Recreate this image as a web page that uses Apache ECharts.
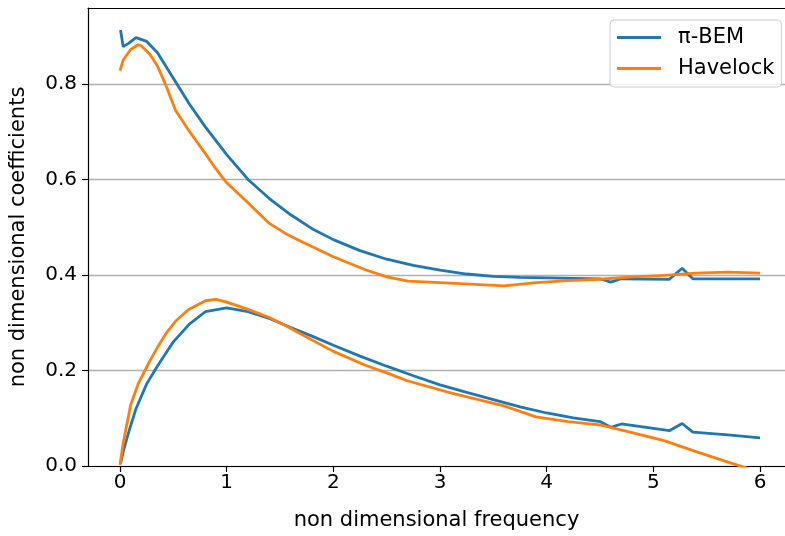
<!DOCTYPE html>
<html>
<head>
<meta charset="utf-8">
<script src="https://cdn.jsdelivr.net/npm/echarts@6/dist/echarts.min.js"></script>
<style>html,body{margin:0;padding:0;background:#fff}#chart{width:785px;height:536px}</style>
</head>
<body>
<div id="chart"></div>
<script>
// ---- data ----
var bemFreq  = [0.005, 0.03, 0.08, 0.15, 0.25, 0.35, 0.5, 0.65, 0.8, 1.0, 1.2, 1.4, 1.6, 1.8, 2.0, 2.25, 2.5, 2.75, 3.0, 3.25, 3.5, 3.75, 4.0, 4.25, 4.5, 4.6, 4.7, 5.15, 5.27, 5.37, 5.7, 6.0];
var bemUpper = [0.913, 0.878, 0.885, 0.897, 0.889, 0.866, 0.812, 0.758, 0.710, 0.652, 0.600, 0.560, 0.526, 0.497, 0.474, 0.451, 0.433, 0.420, 0.410, 0.402, 0.397, 0.395, 0.394, 0.393, 0.392, 0.385, 0.392, 0.391, 0.414, 0.392, 0.392, 0.392];
var bemLower = [0.005, 0.030, 0.070, 0.120, 0.172, 0.209, 0.260, 0.297, 0.323, 0.331, 0.323, 0.309, 0.290, 0.272, 0.253, 0.230, 0.209, 0.189, 0.170, 0.154, 0.139, 0.124, 0.111, 0.101, 0.093, 0.081, 0.088, 0.074, 0.089, 0.071, 0.065, 0.059];

var havFreq  = [0, 0.03, 0.1, 0.17, 0.2, 0.28, 0.35, 0.43, 0.52, 0.64, 0.8, 0.9, 1.0, 1.2, 1.4, 1.55, 1.7, 2.0, 2.3, 2.5, 2.7, 3.1, 3.6, 3.9, 4.2, 4.5, 4.8, 5.1, 5.4, 5.7, 6.0];
var havUpper = [0.828, 0.850, 0.872, 0.882, 0.880, 0.862, 0.838, 0.797, 0.745, 0.704, 0.654, 0.622, 0.593, 0.551, 0.508, 0.487, 0.470, 0.438, 0.411, 0.396, 0.387, 0.383, 0.377, 0.384, 0.388, 0.391, 0.396, 0.399, 0.404, 0.406, 0.404];
var havLower = [0.002, 0.048, 0.128, 0.172, 0.185, 0.220, 0.248, 0.277, 0.303, 0.327, 0.346, 0.349, 0.343, 0.328, 0.311, 0.294, 0.276, 0.240, 0.211, 0.195, 0.178, 0.153, 0.126, 0.103, 0.093, 0.086, 0.070, 0.053, 0.030, 0.008, -0.013];

var xTicks = [0, 1, 2, 3, 4, 5, 6];
var yTicks = [0, 0.2, 0.4, 0.6, 0.8];
var seriesNames = ['π-BEM', 'Havelock'];
var xTitle = 'non dimensional frequency';
var yTitle = 'non dimensional coefficients';

function zip(xs, ys) { return xs.map(function (x, i) { return [x, ys[i]]; }); }

var FONT = 'DejaVu Sans';
var BLUE = '#1f77b4', ORANGE = '#ff7f0e';
var X_MIN = -0.3, X_MAX = 6.234;

function lineSeries(name, xs, ys, color) {
  return {
    type: 'line', name: name, data: zip(xs, ys),
    symbol: 'none', showSymbol: false, clip: true,
    lineStyle: { color: color, width: 2.8 },
    itemStyle: { color: color },
    z: 3
  };
}

var chart = echarts.init(document.getElementById('chart'), null, { renderer: 'canvas' });
chart.setOption({
  animation: false,
  backgroundColor: '#ffffff',
  textStyle: { fontFamily: FONT },
  grid: { left: 88, right: 0, top: 8, bottom: 70, show: false },
  legend: {
    data: seriesNames,
    orient: 'vertical', left: 610, top: 20,
    icon: 'rect',
    itemWidth: 44, itemHeight: 2.8, itemGap: 10,
    padding: [7, 7, 8, 7],
    borderColor: '#cccccc', borderWidth: 1, borderRadius: 4,
    backgroundColor: 'rgba(255,255,255,0.8)',
    textStyle: { fontFamily: FONT, fontSize: 21, color: '#000', padding: [0, 0, 0, 12] }
  },
  xAxis: [{
    type: 'value', min: X_MIN, max: X_MAX, position: 'bottom',
    name: xTitle, nameLocation: 'middle', nameGap: 44,
    nameTextStyle: { fontFamily: FONT, fontSize: 21, color: '#000' },
    axisLine: { onZero: false, lineStyle: { color: '#000', width: 1.2 } },
    axisTick: { customValues: xTicks, length: 6, lineStyle: { color: '#000', width: 1.2 } },
    axisLabel: { customValues: xTicks, fontFamily: FONT, fontSize: 20, color: '#000', margin: 7 },
    splitLine: { show: false }
  }, {
    type: 'value', min: X_MIN, max: X_MAX, position: 'top',
    axisLine: { show: true, onZero: false, lineStyle: { color: '#000', width: 1.2 } },
    axisTick: { show: false }, axisLabel: { show: false }, splitLine: { show: false }
  }],
  yAxis: {
    type: 'value', min: 0, max: 0.959, interval: 0.2,
    name: yTitle, nameLocation: 'middle', nameGap: 59, nameRotate: 90,
    nameTextStyle: { fontFamily: FONT, fontSize: 21, color: '#000' },
    axisLine: { show: true, onZero: false, lineStyle: { color: '#000', width: 1.2 } },
    axisTick: { customValues: yTicks, length: 6, lineStyle: { color: '#000', width: 1.2 } },
    axisLabel: { customValues: yTicks, fontFamily: FONT, fontSize: 20, color: '#000', margin: 11,
      formatter: function (v) { return v.toFixed(1); } },
    splitLine: { show: true, lineStyle: { color: '#b0b0b0', width: 1.4 } }
  },
  series: [
    lineSeries(seriesNames[0], bemFreq, bemUpper, BLUE),
    lineSeries(seriesNames[1], havFreq, havUpper, ORANGE),
    lineSeries(seriesNames[0], bemFreq, bemLower, BLUE),
    lineSeries(seriesNames[1], havFreq, havLower, ORANGE)
  ]
});
</script>
</body>
</html>
